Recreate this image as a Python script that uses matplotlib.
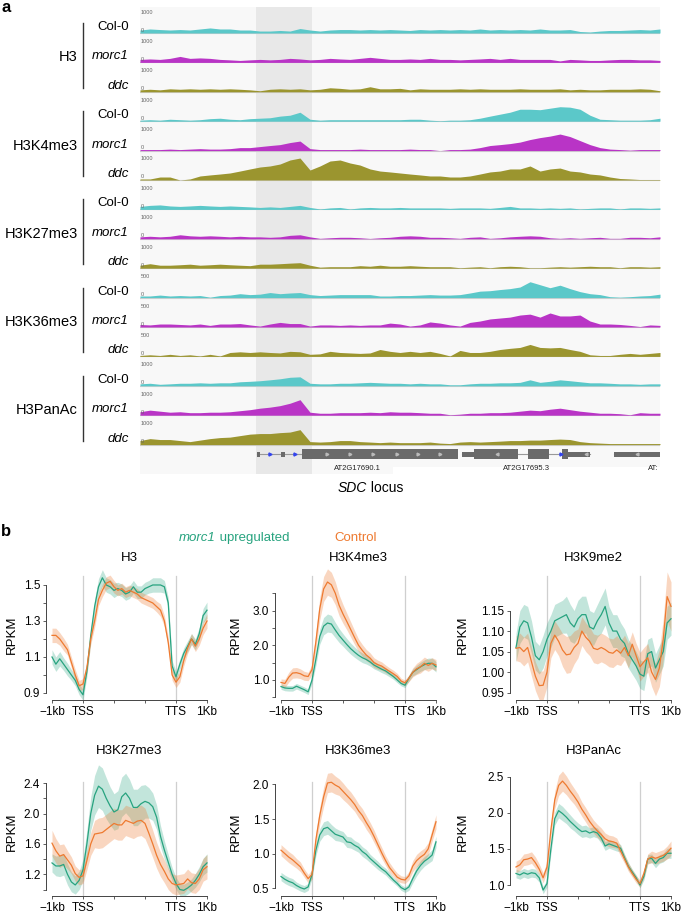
import numpy as np
import matplotlib.pyplot as plt
from matplotlib.patches import Rectangle

plt.rcParams['font.family'] = ['Liberation Sans', 'DejaVu Sans']

W, H = 683, 915


def fx(px):
    return px / W


def fy(py):
    return 1 - py / H


# ---------------- panel a: genome browser tracks ----------------
SAMPLES = ['Col-0', 'morc1', 'ddc']
MARKS = ['H3', 'H3K4me3', 'H3K27me3', 'H3K36me3', 'H3PanAc']
SCALES = [1000, 1000, 1000, 500, 1000]
TRACK_COLORS = {'Col-0': '#5bc8c9', 'morc1': '#b934c6', 'ddc': '#9b952f'}

h3_col0 = [130, 175, 150, 130, 150, 130, 175, 220, 175, 175, 130, 130, 85, 85, 110, 85, 195, 130, 85, 130,
           150, 150, 130, 150, 130, 150, 130, 110, 150, 130, 150, 130, 150, 130, 175, 130, 150, 130, 150, 130,
           175, 130, 130, 150, 65, 45, 85, 110, 110, 130, 150, 130, 175]
h3_morc1 = [130, 150, 130, 175, 260, 175, 195, 175, 130, 110, 85, 110, 130, 110, 130, 175, 150, 110, 130, 175,
            150, 130, 175, 220, 175, 130, 130, 150, 130, 175, 130, 130, 110, 130, 150, 175, 130, 175, 130, 130,
            130, 130, 65, 130, 110, 85, 85, 110, 130, 130, 110, 110, 85]
h3_ddc = [85, 110, 85, 130, 110, 130, 110, 130, 110, 130, 110, 85, 45, 110, 130, 110, 130, 85, 110, 175,
          150, 110, 130, 220, 130, 130, 150, 85, 130, 110, 110, 110, 130, 110, 130, 110, 110, 110, 130, 110,
          110, 110, 130, 85, 110, 85, 85, 110, 110, 110, 130, 110, 45]
k4_col0 = [45, 65, 45, 85, 65, 45, 65, 110, 130, 85, 65, 110, 130, 150, 220, 260, 390, 85, 45, 65,
           65, 65, 65, 65, 65, 65, 65, 85, 85, 45, 20, 45, 45, 65, 130, 220, 305, 390, 520, 520,
           500, 565, 630, 610, 520, 260, 85, 65, 45, 45, 45, 65, 130]
k4_morc1 = [45, 45, 45, 65, 45, 65, 85, 65, 65, 85, 130, 130, 175, 220, 260, 350, 415, 85, 45, 45,
            45, 45, 65, 45, 45, 45, 45, 65, 45, 45, 0, 45, 45, 65, 130, 220, 260, 305, 370, 480,
            565, 630, 720, 610, 435, 260, 130, 65, 45, 20, 45, 45, 45]
k4_ddc = [45, 45, 130, 130, 0, 45, 175, 220, 260, 305, 390, 480, 565, 610, 695, 870, 955, 435, 610, 825,
          870, 740, 650, 480, 390, 350, 305, 260, 220, 175, 175, 130, 130, 175, 260, 350, 390, 480, 480, 610,
          390, 480, 520, 390, 350, 260, 220, 130, 65, 45, 20, 20, 20]
k27_col0 = [130, 175, 195, 150, 130, 150, 175, 150, 130, 150, 130, 110, 85, 110, 85, 130, 175, 85, 20, 65,
            85, 20, 65, 85, 65, 65, 85, 65, 65, 65, 65, 45, 65, 65, 65, 45, 85, 130, 65, 65,
            45, 65, 45, 65, 20, 45, 65, 65, 20, 65, 65, 45, 65]
k27_morc1 = [85, 110, 85, 110, 175, 130, 110, 130, 110, 85, 110, 85, 85, 65, 85, 150, 175, 85, 20, 45,
             65, 65, 45, 15, 45, 65, 110, 130, 110, 65, 65, 45, 20, 65, 85, 20, 45, 85, 110, 130,
             110, 45, 20, 45, 20, 45, 65, 20, 20, 65, 65, 45, 85]
k27_ddc = [130, 195, 130, 130, 150, 175, 130, 150, 175, 150, 130, 110, 175, 175, 195, 220, 240, 130, 45, 65,
           65, 65, 110, 85, 130, 85, 85, 110, 85, 65, 65, 65, 20, 45, 65, 20, 65, 85, 65, 20,
           20, 45, 65, 45, 65, 85, 65, 65, 20, 65, 65, 45, 65]
k36_col0 = [35, 35, 55, 35, 45, 35, 45, 10, 45, 55, 85, 65, 75, 110, 85, 100, 110, 65, 45, 55,
            65, 65, 65, 65, 35, 35, 45, 45, 55, 65, 55, 55, 65, 100, 140, 150, 175, 195, 230, 345,
            280, 215, 270, 195, 130, 85, 65, 20, 10, 20, 35, 45, 75]
k36_morc1 = [55, 45, 65, 65, 55, 45, 65, 35, 65, 65, 75, 45, 20, 65, 100, 75, 75, 20, 45, 45,
             35, 45, 35, 45, 45, 85, 65, 20, 45, 110, 85, 45, 20, 100, 130, 175, 195, 215, 260, 280,
             215, 305, 240, 240, 260, 130, 65, 65, 55, 35, 10, 45, 35]
k36_ddc = [20, 35, 20, 45, 20, 35, 10, 45, 10, 85, 100, 85, 100, 85, 75, 110, 100, 45, 55, 110,
           85, 75, 65, 75, 150, 110, 85, 110, 85, 110, 65, 10, 130, 85, 85, 110, 150, 175, 195, 260,
           195, 185, 195, 150, 110, 35, 20, 20, 45, 65, 45, 65, 85]
ac_col0 = [85, 110, 65, 85, 110, 110, 130, 110, 130, 130, 175, 195, 220, 260, 305, 370, 390, 110, 85, 85,
           110, 110, 130, 150, 130, 110, 110, 85, 110, 85, 85, 45, 45, 85, 110, 110, 130, 130, 150, 260,
           150, 195, 260, 220, 175, 130, 130, 110, 85, 85, 65, 85, 85]
ac_morc1 = [150, 220, 175, 130, 150, 110, 110, 130, 130, 150, 195, 240, 305, 350, 415, 520, 675, 130, 85, 85,
            110, 110, 110, 130, 110, 150, 130, 130, 110, 85, 85, 20, 45, 85, 85, 110, 110, 130, 175, 220,
            195, 260, 305, 240, 175, 130, 85, 85, 65, 20, 110, 85, 85]
ac_ddc = [175, 260, 220, 220, 175, 130, 195, 260, 305, 325, 390, 455, 480, 480, 520, 545, 650, 130, 110, 130,
          175, 175, 130, 110, 85, 110, 85, 85, 85, 110, 65, 45, 110, 130, 110, 130, 150, 175, 175, 195,
          195, 220, 240, 220, 130, 85, 65, 45, 45, 45, 45, 45, 45]

TRACKS = {
    'H3': [h3_col0, h3_morc1, h3_ddc],
    'H3K4me3': [k4_col0, k4_morc1, k4_ddc],
    'H3K27me3': [k27_col0, k27_morc1, k27_ddc],
    'H3K36me3': [k36_col0, k36_morc1, k36_ddc],
    'H3PanAc': [ac_col0, ac_morc1, ac_ddc],
}
bins = np.arange(len(h3_col0))

# gene models (in bin units)
gene_introns = [(11.7, 16.2), (32.2, 45.0), (47.4, 52.0)]
exons_thick = [(16.2, 31.8), (33.4, 37.8), (38.8, 40.9), (42.2, 42.8)]
exons_thin = [(11.7, 11.95), (14.1, 14.5), (32.2, 33.4), (42.8, 45.0), (47.4, 52.0)]
chevrons_fwd = [18.7, 21.0, 23.3, 25.7, 27.8, 30.0]
chevrons_rev = [35.7, 44.6, 49.7]
blue_marks = [13.0, 15.5, 42.1]
gene_names = ['AT2G17690.1', 'AT2G17695.3', 'AT:']
gene_label_x = [21.7, 38.6, 51.3]
highlight = (11.6, 17.2)

ax = fig = None
fig = plt.figure(figsize=(W / 100, H / 100), dpi=100)
ax = fig.add_axes([fx(140), fy(474), (660 - 140) / W, (474 - 7) / H])
ax.set_xlim(0, 52)
ax.set_ylim(474, 7)
ax.axis('off')
ax.add_patch(Rectangle((0, 7), 52, 460, color='#f8f8f8', lw=0, zorder=0))
ax.add_patch(Rectangle((0, 467), 25.3, 7, color='#f8f8f8', lw=0, zorder=0))
ax.add_patch(Rectangle((highlight[0], 7), highlight[1] - highlight[0], 467,
                       color='#e8e8e8', lw=0, zorder=0.5))

for gi, mark in enumerate(MARKS):
    for si, sample in enumerate(SAMPLES):
        i = gi * 3 + si
        b = 33 + 29.4 * i
        h = np.array(TRACKS[mark][si]) / SCALES[gi] * 23
        ax.plot([0, 52], [b, b], color='#d0d0d0', lw=0.8, zorder=1)
        ax.fill_between(bins, b, b - h, color=TRACK_COLORS[sample], lw=0, zorder=2)
        ax.text(0.1, b - 21, str(SCALES[gi]), fontsize=4, color='#666666', va='center', zorder=3)
        ax.text(0.1, b - 3, '0', fontsize=4, color='#666666', va='center', zorder=3)
        style = 'normal' if sample == 'Col-0' else 'italic'
        fig.text(fx(129), fy(b - 6), sample, ha='right', va='center', fontsize=9.5, style=style)
    b_top = 33 + 29.4 * gi * 3
    b_mid = b_top + 29.4
    b_bot = b_top + 2 * 29.4
    fig.text(fx(78), fy(b_mid - 5), mark, ha='right', va='center', fontsize=10.5)
    fig.add_artist(plt.Line2D([fx(83), fx(83)], [fy(b_top - 10), fy(b_bot - 4)],
                              color='#333333', lw=1.0))

gy = 454
gcol = '#6a6a6a'
for s, e in gene_introns:
    ax.plot([s, min(e, 52)], [gy, gy], color='#999999', lw=0.8, zorder=3)
for s, e in exons_thick:
    ax.add_patch(Rectangle((s, gy - 5), e - s, 10, color=gcol, lw=0, zorder=4))
for s, e in exons_thin:
    ax.add_patch(Rectangle((s, gy - 2.5), e - s, 5, color=gcol, lw=0, zorder=4))
ax.plot(chevrons_fwd, [gy] * len(chevrons_fwd), ls='none', marker='>', ms=2, color='#bbbbbb', zorder=5)
ax.plot(chevrons_rev, [gy] * len(chevrons_rev), ls='none', marker='<', ms=2, color='#bbbbbb', zorder=5)
ax.plot(blue_marks, [gy] * len(blue_marks), ls='none', marker='>', ms=2.2, color='#3344ee', zorder=5)
for name, x in zip(gene_names, gene_label_x):
    ax.text(x, 469, name, fontsize=5.5, ha='center', va='center', color='#222222', zorder=5)

t_sdc = fig.text(fx(338), fy(488), 'SDC', style='italic', fontsize=10, va='center')
ax.annotate(' locus', xy=(1, 0.5), xycoords=t_sdc, va='center', ha='left', fontsize=10,
            annotation_clip=False)

fig.text(fx(1), fy(7), 'a', fontweight='bold', fontsize=12, va='center')
fig.text(fx(1), fy(531), 'b', fontweight='bold', fontsize=12, va='center')

# ---------------- panel b: metagene profiles ----------------
GREEN = '#27a37f'
ORANGE = '#ee7a30'

h3_up = [1.10, 1.06, 1.09, 1.06, 1.03, 1.00, 0.97, 0.92, 0.89, 1.02, 1.22, 1.38, 1.49, 1.54, 1.50, 1.49, 1.47,
         1.48, 1.47, 1.45, 1.46, 1.49, 1.46, 1.46, 1.48, 1.49, 1.50, 1.50, 1.50, 1.49, 1.40, 1.05, 0.99, 1.06,
         1.12, 1.16, 1.20, 1.17, 1.23, 1.33, 1.36]
h3_up_err = [0.04, 0.04, 0.04, 0.035, 0.035, 0.03, 0.03, 0.03, 0.03, 0.03, 0.035, 0.04, 0.045, 0.045, 0.04,
             0.04, 0.04, 0.035, 0.035, 0.035, 0.035, 0.035, 0.035, 0.035, 0.035, 0.035, 0.04, 0.04, 0.04,
             0.035, 0.03, 0.03, 0.03, 0.03, 0.03, 0.03, 0.03, 0.03, 0.035, 0.04, 0.045]
h3_ctrl = [1.22, 1.22, 1.20, 1.17, 1.14, 1.07, 1.00, 0.94, 0.95, 1.04, 1.20, 1.30, 1.42, 1.47, 1.51, 1.52, 1.49,
           1.47, 1.48, 1.46, 1.47, 1.46, 1.45, 1.43, 1.42, 1.41, 1.40, 1.38, 1.36, 1.30, 1.18, 1.00, 0.96, 0.99,
           1.08, 1.15, 1.20, 1.16, 1.20, 1.26, 1.30]
h3_ctrl_err = [0.04, 0.04, 0.035, 0.035, 0.03, 0.03, 0.03, 0.03, 0.03, 0.03, 0.03, 0.035, 0.035, 0.035, 0.035,
               0.035, 0.035, 0.03, 0.03, 0.03, 0.03, 0.03, 0.03, 0.03, 0.03, 0.03, 0.03, 0.03, 0.035, 0.03,
               0.03, 0.03, 0.03, 0.03, 0.03, 0.03, 0.03, 0.03, 0.035, 0.035, 0.04]

k4_up = [0.81, 0.77, 0.76, 0.76, 0.82, 0.77, 0.72, 0.66, 1.00, 1.60, 2.25, 2.55, 2.64, 2.61, 2.44, 2.28, 2.15,
         2.02, 1.90, 1.80, 1.71, 1.64, 1.59, 1.52, 1.43, 1.37, 1.31, 1.26, 1.18, 1.10, 1.00, 0.90, 0.85, 1.05,
         1.22, 1.30, 1.38, 1.44, 1.48, 1.48, 1.38]
k4_up_err = [0.08, 0.08, 0.08, 0.08, 0.08, 0.08, 0.08, 0.08, 0.1, 0.18, 0.22, 0.25, 0.26, 0.25, 0.22, 0.2, 0.18,
             0.17, 0.16, 0.15, 0.14, 0.14, 0.13, 0.12, 0.11, 0.1, 0.1, 0.1, 0.09, 0.08, 0.08, 0.07, 0.07, 0.08,
             0.1, 0.12, 0.13, 0.14, 0.15, 0.15, 0.15]
k4_ctrl = [0.93, 0.90, 1.08, 1.20, 1.21, 1.18, 1.12, 1.10, 1.30, 2.10, 3.05, 3.62, 3.82, 3.74, 3.50, 3.15, 2.90,
           2.68, 2.45, 2.22, 2.00, 1.85, 1.72, 1.63, 1.50, 1.44, 1.40, 1.32, 1.25, 1.18, 1.10, 0.97, 0.92, 1.05,
           1.22, 1.32, 1.38, 1.48, 1.42, 1.48, 1.43]
k4_ctrl_err = [0.1, 0.12, 0.14, 0.15, 0.15, 0.14, 0.13, 0.12, 0.15, 0.25, 0.32, 0.36, 0.38, 0.36, 0.33, 0.3,
               0.27, 0.24, 0.22, 0.2, 0.18, 0.17, 0.16, 0.15, 0.14, 0.13, 0.12, 0.11, 0.1, 0.1, 0.09, 0.08,
               0.08, 0.1, 0.13, 0.16, 0.18, 0.18, 0.17, 0.16, 0.16]

k9_up = [1.06, 1.11, 1.125, 1.12, 1.085, 1.04, 1.03, 1.05, 1.08, 1.10, 1.125, 1.13, 1.135, 1.14, 1.12, 1.11,
         1.13, 1.14, 1.14, 1.11, 1.105, 1.125, 1.14, 1.16, 1.12, 1.10, 1.10, 1.08, 1.07, 1.045, 1.03, 1.015,
         0.995, 0.99, 1.045, 1.05, 1.01, 1.03, 1.05, 1.12, 1.13]
k9_up_err = [0.035, 0.04, 0.04, 0.04, 0.04, 0.035, 0.035, 0.04, 0.04, 0.04, 0.04, 0.04, 0.04, 0.045, 0.045,
             0.04, 0.045, 0.045, 0.045, 0.04, 0.04, 0.04, 0.045, 0.045, 0.04, 0.04, 0.04, 0.04, 0.035, 0.035,
             0.035, 0.035, 0.035, 0.035, 0.035, 0.035, 0.035, 0.035, 0.035, 0.04, 0.04]
k9_ctrl = [1.058, 1.06, 1.05, 1.06, 1.025, 0.99, 0.967, 0.968, 1.00, 1.07, 1.09, 1.075, 1.054, 1.042, 1.044,
           1.06, 1.07, 1.10, 1.085, 1.075, 1.058, 1.055, 1.06, 1.055, 1.048, 1.046, 1.054, 1.046, 1.06, 1.04,
           1.068, 1.04, 1.013, 1.025, 1.035, 1.00, 0.982, 1.01, 1.08, 1.184, 1.16]
k9_ctrl_err = [0.03, 0.035, 0.035, 0.035, 0.035, 0.035, 0.035, 0.035, 0.035, 0.035, 0.035, 0.035, 0.04, 0.045,
               0.045, 0.04, 0.035, 0.035, 0.035, 0.035, 0.035, 0.035, 0.035, 0.035, 0.035, 0.035, 0.035, 0.03,
               0.03, 0.03, 0.03, 0.03, 0.035, 0.035, 0.035, 0.035, 0.04, 0.045, 0.05, 0.06, 0.06]

k27_up = [1.35, 1.31, 1.31, 1.33, 1.20, 1.10, 1.06, 1.12, 1.26, 1.60, 2.00, 2.24, 2.36, 2.32, 2.20, 2.10, 2.02,
          2.05, 2.22, 2.27, 2.20, 2.08, 2.08, 2.13, 2.16, 2.14, 2.09, 1.95, 1.70, 1.52, 1.36, 1.20, 1.08, 1.00,
          0.99, 1.02, 1.06, 1.12, 1.20, 1.30, 1.35]
k27_up_err = [0.12, 0.13, 0.14, 0.14, 0.14, 0.13, 0.12, 0.12, 0.14, 0.18, 0.22, 0.26, 0.28, 0.28, 0.27, 0.25,
              0.24, 0.25, 0.26, 0.26, 0.25, 0.24, 0.24, 0.24, 0.22, 0.2, 0.18, 0.16, 0.14, 0.12, 0.1, 0.09,
              0.08, 0.08, 0.08, 0.08, 0.08, 0.09, 0.1, 0.11, 0.12]
k27_ctrl = [1.61, 1.51, 1.44, 1.46, 1.39, 1.32, 1.21, 1.16, 1.18, 1.38, 1.60, 1.73, 1.74, 1.75, 1.79, 1.83,
            1.87, 1.85, 1.85, 1.91, 1.89, 1.87, 1.90, 1.91, 1.87, 1.74, 1.60, 1.45, 1.33, 1.24, 1.14, 1.08,
            1.06, 1.07, 1.08, 1.14, 1.09, 1.08, 1.14, 1.26, 1.30]
k27_ctrl_err = [0.17, 0.16, 0.15, 0.14, 0.12, 0.11, 0.1, 0.1, 0.1, 0.12, 0.15, 0.18, 0.2, 0.2, 0.2, 0.2, 0.2,
                0.2, 0.2, 0.2, 0.2, 0.2, 0.2, 0.2, 0.2, 0.19, 0.18, 0.17, 0.16, 0.15, 0.14, 0.13, 0.13, 0.13,
                0.13, 0.13, 0.13, 0.13, 0.14, 0.15, 0.16]

k36_up = [0.67, 0.63, 0.60, 0.58, 0.54, 0.51, 0.49, 0.52, 0.70, 1.05, 1.27, 1.36, 1.38, 1.33, 1.28, 1.26, 1.24,
          1.17, 1.16, 1.12, 1.09, 1.03, 0.99, 0.93, 0.88, 0.83, 0.78, 0.74, 0.68, 0.62, 0.57, 0.51, 0.48, 0.52,
          0.64, 0.75, 0.83, 0.89, 0.93, 0.98, 1.17]
k36_up_err = [0.06, 0.06, 0.06, 0.06, 0.05, 0.05, 0.05, 0.05, 0.06, 0.08, 0.09, 0.1, 0.1, 0.09, 0.09, 0.08,
              0.08, 0.08, 0.08, 0.07, 0.07, 0.07, 0.07, 0.06, 0.06, 0.06, 0.05, 0.05, 0.05, 0.04, 0.04, 0.04,
              0.04, 0.05, 0.06, 0.07, 0.07, 0.07, 0.07, 0.08, 0.08]
k36_ctrl = [1.05, 1.00, 0.95, 0.91, 0.86, 0.81, 0.72, 0.64, 0.70, 1.20, 1.55, 1.82, 2.02, 2.03, 1.99, 1.96,
            1.90, 1.84, 1.78, 1.71, 1.62, 1.55, 1.45, 1.36, 1.25, 1.13, 1.01, 0.90, 0.80, 0.73, 0.66, 0.63,
            0.62, 0.68, 0.82, 0.90, 0.95, 0.99, 1.07, 1.27, 1.46]
k36_ctrl_err = [0.08, 0.08, 0.08, 0.08, 0.07, 0.07, 0.06, 0.06, 0.07, 0.1, 0.12, 0.14, 0.14, 0.14, 0.13, 0.12,
                0.12, 0.11, 0.11, 0.1, 0.1, 0.1, 0.1, 0.09, 0.09, 0.08, 0.08, 0.07, 0.07, 0.06, 0.06, 0.05,
                0.05, 0.06, 0.08, 0.09, 0.09, 0.09, 0.09, 0.09, 0.1]

ac_up = [1.16, 1.14, 1.17, 1.15, 1.17, 1.16, 1.10, 0.93, 1.02, 1.50, 1.92, 2.03, 1.99, 1.94, 1.88, 1.83, 1.78,
         1.74, 1.75, 1.72, 1.74, 1.72, 1.65, 1.54, 1.57, 1.55, 1.53, 1.51, 1.38, 1.26, 1.18, 1.10, 1.00, 1.12,
         1.36, 1.37, 1.30, 1.36, 1.38, 1.44, 1.44]
ac_up_err = [0.06, 0.06, 0.06, 0.06, 0.06, 0.06, 0.06, 0.05, 0.05, 0.07, 0.09, 0.1, 0.1, 0.09, 0.09, 0.08,
             0.08, 0.08, 0.08, 0.07, 0.07, 0.07, 0.07, 0.06, 0.06, 0.06, 0.06, 0.05, 0.05, 0.05, 0.04, 0.04,
             0.04, 0.05, 0.06, 0.06, 0.06, 0.06, 0.06, 0.07, 0.07]
ac_ctrl = [1.25, 1.28, 1.35, 1.36, 1.38, 1.31, 1.22, 1.10, 1.25, 1.76, 2.18, 2.38, 2.44, 2.38, 2.30, 2.23, 2.15,
           2.05, 1.97, 1.88, 1.81, 1.75, 1.70, 1.64, 1.61, 1.60, 1.58, 1.47, 1.36, 1.25, 1.16, 1.08, 1.02, 1.16,
           1.36, 1.39, 1.37, 1.39, 1.41, 1.45, 1.51]
ac_ctrl_err = [0.08, 0.08, 0.08, 0.08, 0.08, 0.08, 0.07, 0.07, 0.07, 0.1, 0.12, 0.14, 0.14, 0.13, 0.12, 0.11,
               0.11, 0.1, 0.1, 0.1, 0.09, 0.09, 0.09, 0.08, 0.08, 0.08, 0.07, 0.07, 0.06, 0.06, 0.05, 0.05,
               0.05, 0.06, 0.07, 0.08, 0.08, 0.08, 0.08, 0.09, 0.1]

prof_x = np.linspace(0, 5, len(h3_up))
x_ticklabels = ['\u22121kb', 'TSS', '', '', 'TTS', '1Kb']

PROFILES = [
    ('H3', h3_up, h3_up_err, h3_ctrl, h3_ctrl_err, (0.861, 1.611), [0.9, 1.1, 1.3, 1.5], [1.0, 1.2, 1.4], '%.1f'),
    ('H3K4me3', k4_up, k4_up_err, k4_ctrl, k4_ctrl_err, (0.424, 4.31), [1.0, 2.0, 3.0], [0.5, 1.5, 2.5, 3.5], '%.1f'),
    ('H3K9me2', k9_up, k9_up_err, k9_ctrl, k9_ctrl_err, (0.932, 1.261), [0.95, 1.0, 1.05, 1.1, 1.15], [], '%.2f'),
    ('H3K27me3', k27_up, k27_up_err, k27_ctrl, k27_ctrl_err, (0.915, 2.691), [1.2, 1.6, 2.0, 2.4], [1.0, 1.4, 1.8, 2.2], '%.1f'),
    ('H3K36me3', k36_up, k36_up_err, k36_ctrl, k36_ctrl_err, (0.389, 2.337), [0.5, 1.0, 1.5, 2.0], [], '%.1f'),
    ('H3PanAc', ac_up, ac_up_err, ac_ctrl, ac_ctrl_err, (0.848, 2.718), [1.0, 1.5, 2.0, 2.5], [], '%.1f'),
]

col_left = [52, 281, 516]
row_bottom = [700, 896]
title_y = [558, 751]
label_x = [12, 236, 463]
label_y = [635, 832]
vline_top = [0.919, 0.844]
ax_h = 135

first_ax = None
for k, (name, up, up_e, ct, ct_e, ylim, major, minor, fmt) in enumerate(PROFILES):
    r, c = divmod(k, 3)
    axp = fig.add_axes([fx(col_left[c]), fy(row_bottom[r]), 155 / W, ax_h / H])
    if first_ax is None:
        first_ax = axp
    up, up_e, ct, ct_e = map(np.array, (up, up_e, ct, ct_e))
    axp.fill_between(prof_x, up - up_e, up + up_e, color=GREEN, alpha=0.28, lw=0, clip_on=False)
    axp.fill_between(prof_x, ct - ct_e, ct + ct_e, color=ORANGE, alpha=0.3, lw=0, clip_on=False)
    axp.plot(prof_x, up, color=GREEN, lw=0.9, clip_on=False)
    axp.plot(prof_x, ct, color=ORANGE, lw=0.9, clip_on=False)
    for xv in (1, 4):
        axp.axvline(xv, ymin=0, ymax=vline_top[r], color='#cfcfcf', lw=0.9, zorder=0)
    axp.set_xlim(0, 5)
    axp.set_ylim(*ylim)
    axp.set_xticks(range(6))
    axp.set_xticklabels(x_ticklabels)
    axp.set_yticks(major)
    axp.set_yticklabels([fmt % v for v in major])
    axp.set_yticks(minor, minor=True)
    for side in ('top', 'right'):
        axp.spines[side].set_visible(False)
    axp.spines['left'].set_position(('outward', 4.5))
    allt = major + minor
    axp.spines['left'].set_bounds(min(allt), max(allt))
    axp.spines['bottom'].set_bounds(0, 5)
    for side in ('left', 'bottom'):
        axp.spines[side].set_color('#444444')
        axp.spines[side].set_linewidth(0.7)
    axp.tick_params(which='both', length=2.5, width=0.6, color='#444444', labelsize=8.5, pad=1.5)
    axp.tick_params(axis='x', pad=2)
    axp.set_facecolor('none')
    fig.text(fx(col_left[c] + 77.5), fy(title_y[r]), name, ha='center', va='center', fontsize=9.5)
    fig.text(fx(label_x[c]), fy(label_y[r]), 'RPKM', rotation=90, ha='center', va='center', fontsize=9.5)

t_leg = fig.text(fx(179), fy(538), 'morc1', style='italic', color=GREEN, fontsize=9.5, va='center')
first_ax.annotate(' upregulated', xy=(1, 0.5), xycoords=t_leg, va='center', ha='left', fontsize=9.5,
                  color=GREEN, annotation_clip=False)
fig.text(fx(334), fy(538), 'Control', color=ORANGE, fontsize=9.5, va='center')

fig.savefig('out.png', dpi=100)
